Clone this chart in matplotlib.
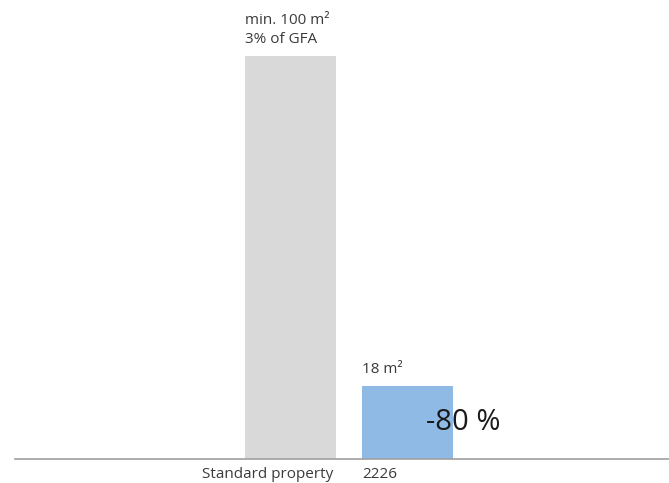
import matplotlib.pyplot as plt

# data
categories = ["Standard property", "2226"]
values = [100, 18]
top_labels = ["min. 100 m²\n3% of GFA", "18 m²"]
change_label = "-80 %"
colors = ["#d9d9d9", "#8fbae5"]

plt.rcParams['font.family'] = ['Open Sans', 'DejaVu Sans']

fig = plt.figure(figsize=(6.69, 4.83), dpi=100)
# axes placed so value 100 reaches y=56px, baseline at y=459px
ax = fig.add_axes([15 / 669, 24 / 483, 654 / 669, 403 / 483])

pos = [0, 1]
width = 91 / 117
ax.bar(pos, values, width=width, color=colors, zorder=2)
ax.set_xlim((15 - 290.5) / 117, (669 - 290.5) / 117)
ax.set_ylim(0, 100)

for s in ["top", "right", "left"]:
    ax.spines[s].set_visible(False)
ax.spines["bottom"].set_color("#a0a0a0")
ax.spines["bottom"].set_linewidth(1.2)
ax.set_yticks([])
ax.set_xticks([])

txt = "#3a3a3a"
# category labels under the axis
ax.text(pos[0] + width / 2 - 0.02, -4.7, categories[0], ha="right", va="baseline",
        fontsize=11, color=txt, clip_on=False)
ax.text(pos[1] - width / 2, -4.7, categories[1], ha="left", va="baseline",
        fontsize=11, color=txt, clip_on=False)

# labels above bars
for p, v, lab in zip(pos, values, top_labels):
    ax.text(p - width / 2, v + 3.3, lab, ha="left", va="baseline",
            fontsize=11, color=txt, linespacing=1.3, clip_on=False)

# percentage change, overlapping the small bar
ax.text(pos[1] + width / 2 - 0.23, 7.3, change_label,
        ha="left", va="baseline", fontsize=21, color="#1a1a1a")

fig.savefig("out.png", dpi=100)
